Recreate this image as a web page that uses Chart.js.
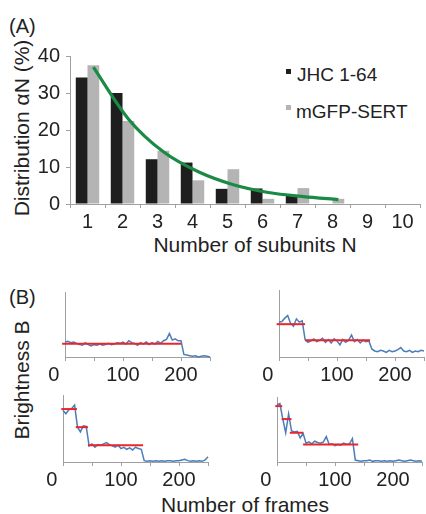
<!DOCTYPE html>
<html><head><meta charset="utf-8">
<script src="https://cdn.jsdelivr.net/npm/chart.js@4.4.0/dist/chart.umd.min.js"></script>
<style>
html,body{margin:0;padding:0;background:#fff;}
body{width:426px;height:514px;overflow:hidden;position:relative;font-family:"Liberation Sans",Arial,sans-serif;color:#222;}
.t{position:absolute;white-space:nowrap;line-height:1;}
.c{transform:translateX(-50%);}
.rt{transform:translate(-50%,-50%) rotate(-90deg);}
canvas{position:absolute;}
.sq{position:absolute;width:5px;height:5px;}
</style></head><body>
<div class="t" style="left:9px;top:16px;font-size:20px;">(A)</div>
<div class="t" style="left:9px;top:287px;font-size:20px;">(B)</div>
<div class="sq" style="left:286px;top:69px;background:#1e1e1e;"></div>
<div class="t" style="left:297px;top:65px;font-size:19px;">JHC 1-64</div>
<div class="sq" style="left:286px;top:105px;background:#b4b4b4;"></div>
<div class="t" style="left:296px;top:102px;font-size:19px;">mGFP-SERT</div>
<div class="t rt" style="left:21px;top:128px;font-size:21px;">Distribution αN (%)</div>
<div class="t c" style="left:255px;top:234px;font-size:21px;">Number of subunits N</div>
<div class="t rt" style="left:21px;top:380px;font-size:21px;">Brightness B</div>
<div class="t c" style="left:245px;top:494px;font-size:21px;">Number of frames</div>
<canvas id="cA" width="426" height="240" style="left:0;top:0;"></canvas>
<canvas id="cFit" width="426" height="240" style="left:0;top:0;"></canvas>
<script>
// ---------- Panel A data ----------
const subunits = ['1','2','3','4','5','6','7','8','9','10'];
const jhcValues  = [34.2, 30.0, 12.1, 11.2, 4.1, 4.2, 2.4, 0, 0, 0];
const sertValues = [37.5, 22.4, 14.4, 6.4, 9.4, 1.4, 4.3, 1.4, 0, 0];
const fitN       = [1, 2, 3, 4, 5, 6, 7, 8];
const fitValues  = [37.0, 23.0, 14.1, 8.7, 5.2, 3.1, 2.0, 1.2];
const yStepA     = 10;

// ---------- Panel B data ----------
const frames = [0,5,10,15,20,25,30,35,40,45,50,55,60,65,70,75,80,85,90,95,100,105,110,115,120,125,130,135,140,145,150,155,160,165,170,175,180,185,190,195,200,205,210,215,220,225,230,235,240,245,250];
const traceTL = [23,24,22,23,21,19,18,22,19,17,19,18,20,18,19,21,19,20,22,21,23,20,25,22,21,18,22,20,23,19,22,20,24,21,25,27,36,26,28,25,25,4,3,2,1,2,0,1,2,1,0];
const traceTR = [52,53,58,62,50,46,57,52,54,26,22,24,27,23,25,28,22,26,21,27,24,18,26,22,25,33,23,26,21,25,23,24,12,9,8,10,9,7,10,8,9,11,14,9,8,10,7,9,8,10,9];
const traceBL = [77,72,78,80,85,52,45,54,53,24,27,22,26,25,27,29,26,24,22,25,20,22,19,21,18,22,20,19,2,1,2,1,2,1,2,1,2,2,1,2,2,3,4,2,1,2,1,2,1,3,8];
const traceBR = [88,90,66,45,74,48,46,47,37,44,29,31,28,32,30,29,31,39,27,28,25,27,26,29,27,28,36,3,2,1,2,2,3,1,2,2,1,2,1,2,1,2,3,2,1,2,3,2,1,2,1];
// step fits: [first frame, last frame, level]
const stepsTL = [[-5,200,20.5]];
const stepsTR = [[-4,45,49],[45,157,25]];
const stepsBL = [[-3,24,79],[22,43,52],[43,138,25]];
const stepsBR = [[-3,9,86],[8,25,66],[22,45,45],[45,140,27]];
const frameLabels = [0, 100, 200];

const FAM = '"Liberation Sans", Arial, sans-serif';
const AXIS = '#a0a0a0';
const TXT = '#222';
const catPct = 0.67;

// bars
new Chart(document.getElementById('cA'), {
  type:'bar',
  data: {
    labels: subunits,
    datasets: [
      {label:'JHC 1-64', data:jhcValues, backgroundColor:'#1e1e1e', categoryPercentage:catPct, barPercentage:1},
      {label:'mGFP-SERT', data:sertValues, backgroundColor:'#b4b4b4', categoryPercentage:catPct, barPercentage:1}
    ]
  },
  options: {
    responsive:false, animation:false, events:[],
    layout:{padding:{left:0, top:56, right:6, bottom:0}},
    plugins:{legend:{display:false}, tooltip:{enabled:false}},
    scales:{
      x:{type:'category', offset:true,
         grid:{display:true, drawOnChartArea:false, offset:true, tickLength:4, color:AXIS},
         border:{color:AXIS},
         ticks:{font:{size:20, family:FAM}, color:TXT, padding:2, maxRotation:0, autoSkip:false},
         afterFit:s=>{s.height=36;}},
      y:{type:'linear', min:0, max:40,
         grid:{drawOnChartArea:false, tickLength:4, color:AXIS},
         border:{color:AXIS},
         ticks:{stepSize:yStepA, font:{size:20, family:FAM}, color:TXT, padding:6, autoSkip:false},
         afterFit:s=>{s.width=70;}}
    }
  }
});

// fitted curve, drawn over the bars on the same plot area (at the mGFP-SERT bar positions)
new Chart(document.getElementById('cFit'), {
  type:'line',
  data:{datasets:[{data: fitN.map((n,i)=>({x:n+catPct/4, y:fitValues[i]})),
       borderColor:'#1b8a45', borderWidth:3.2, pointRadius:0, tension:0.3, clip:false}]},
  options:{
    responsive:false, animation:false, events:[],
    layout:{padding:{left:70, top:56, right:6, bottom:36}},
    plugins:{legend:{display:false}, tooltip:{enabled:false}},
    scales:{
      x:{type:'linear', min:0.5, max:10.5, display:false},
      y:{type:'linear', min:0, max:40, display:false}
    }
  }
});

function traceChart(box, values, steps) {
  const padL=30, padT=5, padR=5, axisH=34;
  const c = document.createElement('canvas');
  const W = box.w + padL + padR, H = box.h + padT + axisH;
  c.width = W; c.height = H;
  c.style.left = (box.x - padL) + 'px';
  c.style.top = (box.y - padT) + 'px';
  document.body.appendChild(c);
  const ds = steps.map(s=>({data:[{x:s[0],y:s[2]},{x:s[1],y:s[2]}],
    borderColor:'#e8262b', borderWidth:2, pointRadius:0, clip:false}));
  ds.push({data: frames.map((f,i)=>({x:f, y:values[i]})), borderColor:'#4a7ebb',
    borderWidth:1.5, pointRadius:0, tension:0, clip:false});
  new Chart(c, {
    type:'line',
    data:{datasets:ds},
    options:{
      responsive:false, animation:false, events:[],
      layout:{padding:{left:padL, top:padT, right:padR, bottom:0}},
      plugins:{legend:{display:false}, tooltip:{enabled:false}},
      scales:{
        x:{type:'linear', min:0, max:250,
           ticks:{stepSize:50, autoSkip:false, maxRotation:0, font:{size:20, family:FAM}, color:TXT, padding:2,
             callback:v=> frameLabels.includes(v) ? (v===0 ? '0    ' : String(v)) : ''},
           grid:{display:true, drawOnChartArea:false, tickLength:4, color:AXIS},
           border:{color:AXIS},
           afterFit:s=>{s.height=axisH;}},
        y:{type:'linear', min:0, max:100,
           ticks:{display:false}, grid:{display:false},
           border:{color:AXIS},
           afterFit:s=>{s.width=0;}}
      }
    }
  });
}
traceChart({x:65, y:292, w:145, h:65}, traceTL, stepsTL);
traceChart({x:279, y:290, w:145, h:67}, traceTR, stepsTR);
traceChart({x:63, y:395, w:145, h:67}, traceBL, stepsBL);
traceChart({x:277, y:397, w:145, h:65}, traceBR, stepsBR);
</script>
</body></html>
